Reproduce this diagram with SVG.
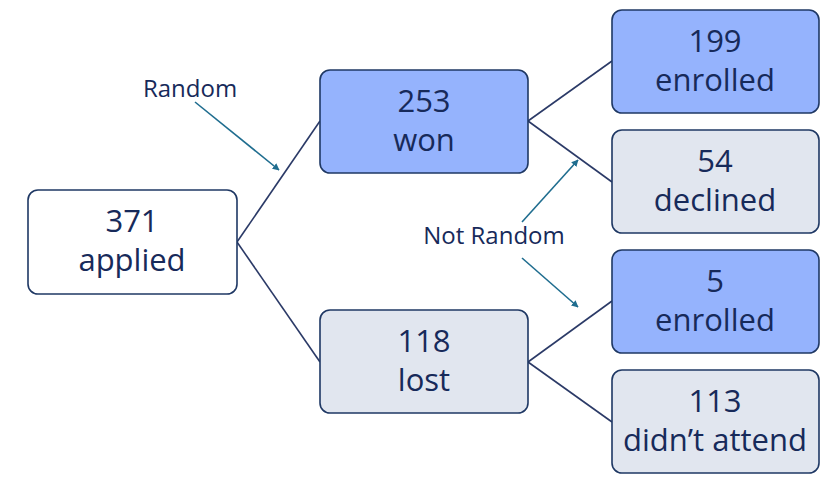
<svg xmlns="http://www.w3.org/2000/svg" width="833" height="477" viewBox="0 0 833 477">
<defs>
<style>
.box{stroke:#1f3864;stroke-width:1.6}
.blue{fill:#95b3fd}
.gray{fill:#e1e6ef}
.white{fill:#ffffff}
.t{font-family:"Open Sans","Liberation Sans",sans-serif;font-size:31px;fill:#172a5a;text-anchor:middle}
.lbl{font-family:"Open Sans","Liberation Sans",sans-serif;font-size:24px;fill:#172a5a;text-anchor:middle}
.link{stroke:#2b3a67;stroke-width:1.6;fill:none}
.ann{stroke:#1f6d8f;stroke-width:1.6;fill:none;marker-end:url(#ah)}
</style>
<marker id="ah" viewBox="0 0 10 10" refX="9" refY="5" markerWidth="7" markerHeight="7" orient="auto" markerUnits="userSpaceOnUse">
<path d="M0,0 L10,5 L0,10 z" fill="#1f6d8f"/>
</marker>
</defs>
<rect width="833" height="477" fill="#ffffff"/>
<g id="connectors">
<line class="link" x1="237" y1="242" x2="320" y2="121"/>
<line class="link" x1="237" y1="242" x2="320" y2="362"/>
<line class="link" x1="528" y1="121" x2="612" y2="61"/>
<line class="link" x1="528" y1="121" x2="612" y2="182"/>
<line class="link" x1="528" y1="362" x2="612" y2="301"/>
<line class="link" x1="528" y1="362" x2="612" y2="422"/>
<line class="ann" x1="195" y1="102" x2="279" y2="170"/>
<line class="ann" x1="522" y1="222" x2="578" y2="160"/>
<line class="ann" x1="522" y1="258" x2="578" y2="307"/>
</g>
<g id="label-random"><text class="lbl" x="190" y="97">Random</text></g>
<g id="label-notrandom"><text class="lbl" x="494" y="244">Not Random</text></g>
<g id="applied">
<rect class="box white" x="28" y="190" width="209" height="104" rx="10"/>
<text class="t" x="132" y="232">371</text><text class="t" x="132" y="271">applied</text>
</g>
<g id="won">
<rect class="box blue" x="320" y="70" width="208" height="103" rx="10"/>
<text class="t" x="424" y="112">253</text><text class="t" x="424" y="151">won</text>
</g>
<g id="lost">
<rect class="box gray" x="320" y="310" width="208" height="103" rx="10"/>
<text class="t" x="424" y="352">118</text><text class="t" x="424" y="391">lost</text>
</g>
<g id="enrolled199">
<rect class="box blue" x="612" y="10" width="207" height="103" rx="10"/>
<text class="t" x="715" y="52">199</text><text class="t" x="715" y="91">enrolled</text>
</g>
<g id="declined54">
<rect class="box gray" x="612" y="130" width="207" height="103" rx="10"/>
<text class="t" x="715" y="172">54</text><text class="t" x="715" y="211">declined</text>
</g>
<g id="enrolled5">
<rect class="box blue" x="612" y="250" width="207" height="103" rx="10"/>
<text class="t" x="715" y="292">5</text><text class="t" x="715" y="331">enrolled</text>
</g>
<g id="attend113">
<rect class="box gray" x="612" y="370" width="207" height="103" rx="10"/>
<text class="t" x="715" y="412">113</text><text class="t" x="715" y="451">didn’t attend</text>
</g>
</svg>
